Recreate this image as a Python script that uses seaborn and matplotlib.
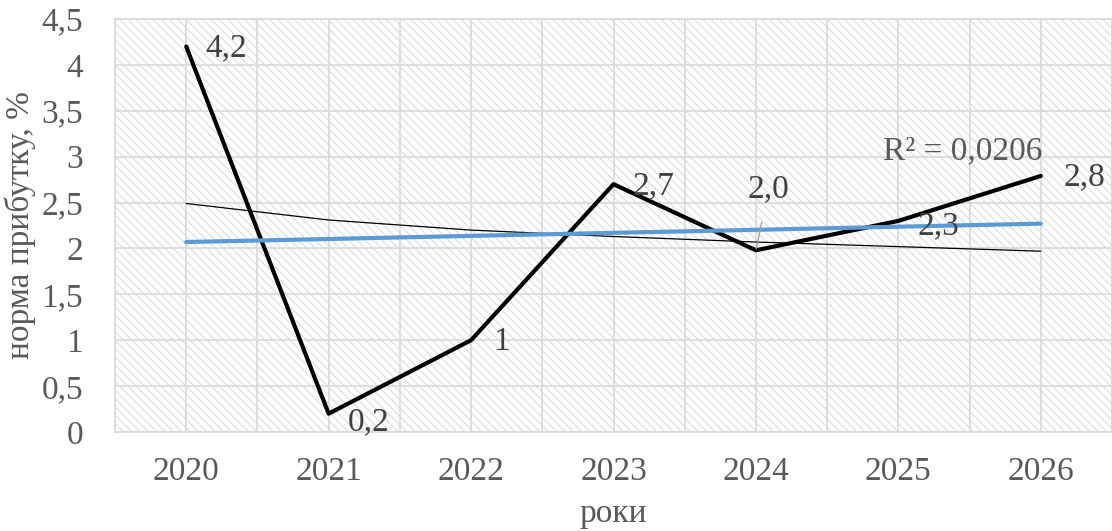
import matplotlib
matplotlib.use("Agg")
import matplotlib.pyplot as plt
import seaborn as sns
import numpy as np
from matplotlib.patches import Rectangle

years = ["2020", "2021", "2022", "2023", "2024", "2025", "2026"]
profit_rate = [4.2, 0.2, 1.0, 2.7, 1.98, 2.3, 2.79]
point_labels = ["4,2", "0,2", "1", "2,7", "2,0", "2,3", "2,8"]
linear_trend = [2.07, 2.103, 2.137, 2.17, 2.203, 2.237, 2.27]
log_trend = [2.49, 2.31, 2.20, 2.13, 2.07, 2.02, 1.97]
y_ticks = [0, 0.5, 1, 1.5, 2, 2.5, 3, 3.5, 4, 4.5]
y_tick_labels = ["0", "0,5", "1", "1,5", "2", "2,5", "3", "3,5", "4", "4,5"]

sns.set_theme(style="white")
plt.rcParams["font.family"] = ["Liberation Serif", "DejaVu Serif"]
plt.rcParams["hatch.linewidth"] = 0.8
plt.rcParams["hatch.color"] = "#dcdcdc"

txt = "#595959"
grid_c = "#d9d9d9"
fs = 24

fig = plt.figure(figsize=(11.12, 5.31), dpi=100)
ax = fig.add_axes([115 / 1112, 1 - 432 / 531, 1 - 115 / 1112, (432 - 19) / 531])

x = np.arange(len(years))

ax.set_xlim(-0.5, len(years) - 0.5)
ax.set_ylim(0, 4.5)

# hatched background
ax.patch.set_facecolor("white")
bg = Rectangle((0, 0), 1, 1, transform=ax.transAxes, facecolor="white",
               edgecolor="#dcdcdc", hatch="\\\\\\\\", linewidth=0, zorder=0)
ax.add_patch(bg)

# grid
for v in y_ticks:
    ax.axhline(v, color=grid_c, lw=1.2, zorder=1)
for v in np.arange(-0.5, len(years), 0.5):
    ax.axvline(v, color=grid_c, lw=1.2, zorder=1)

sns.lineplot(x=x, y=log_trend, ax=ax, color="black", lw=0.9, zorder=3)
sns.lineplot(x=x, y=profit_rate, ax=ax, color="black", lw=3.0, zorder=4)
sns.lineplot(x=x, y=linear_trend, ax=ax, color="#5b9bd5", lw=3.0, zorder=5)

# data labels
offsets = [(14, -1), (14, -6), (16, -1), (14, -1), (0, 0), (14, -4), (16, -1)]
for i, (lab, (dx, dy)) in enumerate(zip(point_labels, offsets)):
    if i == 4:
        continue
    ax.annotate(lab, (x[i], profit_rate[i]), xytext=(dx, dy), textcoords="offset points",
                ha="left", va="center", fontsize=fs, color="#404040", zorder=6)
ax.annotate(point_labels[4], (x[4], profit_rate[4]), xytext=(x[4] + 0.09, 2.65),
            textcoords="data", ha="center", va="center", fontsize=fs, color="#404040",
            arrowprops=dict(arrowstyle="-", color="#a0a0a0", lw=1.0, shrinkA=11, shrinkB=1),
            zorder=6)
ax.text(5.45, 3.06, "R² = 0,0206", ha="center", va="center", fontsize=fs,
        color=txt, zorder=6)

ax.set_xticks(x)
ax.set_xticklabels(years)
ax.set_yticks(y_ticks)
ax.set_yticklabels(y_tick_labels)
ax.tick_params(axis="both", length=0, labelsize=fs, colors=txt)
ax.tick_params(axis="x", pad=18)
ax.tick_params(axis="y", pad=23)
ax.set_xlabel("роки", fontsize=fs, color=txt, labelpad=8)
ax.set_ylabel("норма прибутку, %", fontsize=fs, color=txt, labelpad=4)

for s in ax.spines.values():
    s.set_color(grid_c)
    s.set_linewidth(1.2)
    s.set_zorder(2)

fig.savefig("out.png", dpi=100)
